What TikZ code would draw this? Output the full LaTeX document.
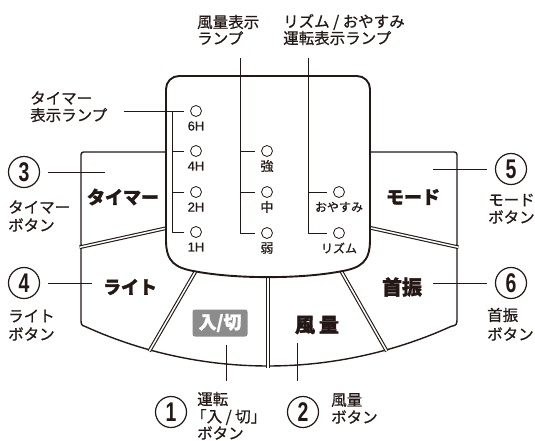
\documentclass[tikz,border=0pt]{standalone}
\usepackage{fontspec}
\setmainfont{Liberation Sans}
\newfontfamily\jp{Noto Sans CJK JP}[FakeBold=0.7]
\newfontfamily\jpb{Noto Sans CJK JP}[BoldFeatures={FakeBold=1.6}]
\newfontfamily\hfont{Liberation Sans}[FakeBold=0.5]
\usetikzlibrary{calc}
\definecolor{ink}{HTML}{231815}
\definecolor{boxgray}{HTML}{8C8C8C}
\begin{document}
\begin{tikzpicture}[x=1pt,y=-1pt, line join=round,
  btn/.style={draw=ink, line width=1.4pt, fill=white},
  divider/.style={draw=ink, line width=1.1pt, double=white, double distance=1.5pt},
  panel/.style={draw=ink, line width=1.9pt, fill=white},
  lead/.style={draw=ink, line width=0.8pt},
  lamp/.style={circle, draw=ink, line width=0.8pt, minimum size=11pt, inner sep=0pt},
  hlbl/.style={font=\hfont\fontsize{13}{14}\selectfont, text=ink, inner sep=0pt},
  jlbl/.style={font=\jp\fontsize{13}{14}\selectfont, text=ink, inner sep=0pt},
  klbl/.style={font=\jp\fontsize{12}{13}\selectfont, text=ink, inner sep=0pt},
  lbl/.style={font=\jp\fontsize{15.5}{17}\selectfont, text=ink, inner sep=0pt, anchor=west},
  btnlbl/.style={font=\jpb\bfseries\fontsize{18}{20}\selectfont, text=ink, inner sep=0pt},
  kbtnlbl/.style={font=\jpb\bfseries\fontsize{20}{22}\selectfont, text=ink, inner sep=0pt},
  num/.style={circle, draw=ink, line width=1.2pt, minimum size=31pt, inner sep=0pt,
    font=\bfseries\fontsize{27}{28}\selectfont, text=ink}
]
\useasboundingbox (0,0) rectangle (535,440);

% ---------- buttons ----------
\draw[btn, rounded corners=2.5pt] (81,247) -- (81,152) -- (180,152) -- (180,225) -- cycle;
\draw[btn, rounded corners=2.5pt] (457,247) -- (457,152) -- (358,152) -- (358,225) -- cycle;
\draw[btn] (81,247) -- (180,225) -- (180,250) -- (201,262) -- (150,350)
  -- plot[domain=105.45:114.4, samples=12, variable=\t] ({268+443*cos(\t)},{-77+443*sin(\t)})
  .. controls (81,325) .. (81,317) -- cycle;
\draw[btn] (457,247) -- (358,225) -- (358,250) -- (336,262) -- (386,350)
  -- plot[domain=74.55:65.6, samples=12, variable=\t] ({268+443*cos(\t)},{-77+443*sin(\t)})
  .. controls (457,325) .. (457,317) -- cycle;
\draw[btn] (150,350) -- (201,262) -- (268,262) -- (268,366)
  -- plot[domain=90:105.45, samples=16, variable=\t] ({268+443*cos(\t)},{-77+443*sin(\t)}) -- cycle;
\draw[btn] (386,350) -- (336,262) -- (268,262) -- (268,366)
  -- plot[domain=90:74.55, samples=16, variable=\t] ({268+443*cos(\t)},{-77+443*sin(\t)}) -- cycle;

% ---------- dividers ----------
\draw[divider] (79.5,247.3) -- (176,226);
\draw[divider] (458.5,247.3) -- (362,226);
\draw[divider] (149.2,351.3) -- (201,262);
\draw[divider] (386.8,351.3) -- (336,262);
\draw[divider] (268,367.6) -- (268,262);

% ---------- panel ----------
\draw[panel] (166,240) -- (166,89) .. controls (166,81.8) and (171.8,76) .. (179,76)
  -- (357,76) .. controls (364.2,76) and (370,81.8) .. (370,89) -- (370,240)
  .. controls (370,262) and (361,268) .. (340,271.5)
  .. controls (300,279) and (236,279) .. (196,271.5)
  .. controls (175,268) and (166,262) .. (166,240) -- cycle;

% ---------- timer lamps ----------
\node[lamp] (l6) at (196,111) {};
\node[lamp] (l4) at (196,151) {};
\node[lamp] (l2) at (196,192) {};
\node[lamp] (l1) at (196,232) {};
\node[hlbl] (t6) at (196,126) {6H};
\node[hlbl] (t4) at (196,166) {4H};
\node[hlbl] (t2) at (196,207) {2H};
\node[hlbl] (t1) at (196,247) {1H};
\coordinate (tlead) at (124,111);
\coordinate (tbar) at (172,111);
\draw[lead] (tlead) -- ([xshift=-6pt]l6.west);
\draw[lead] (tbar) -- (tbar |- l1) -- ([xshift=-6pt]l1.west);
\draw[lead] (tbar |- l4) -- ([xshift=-6pt]l4.west);
\draw[lead] (tbar |- l2) -- ([xshift=-6pt]l2.west);

% ---------- wind lamps ----------
\node[lamp] (ws) at (267,151) {};
\node[lamp] (wm) at (267,192) {};
\node[lamp] (ww) at (267,233) {};
\node[jlbl] (wst) at (267,166) {強};
\node[jlbl] (wmt) at (267,207) {中};
\node[jlbl] (wwt) at (267,248) {弱};
\coordinate (wtop) at (240,58);
\draw[lead] (wtop) -- (wtop |- ww) -- ([xshift=-6pt]ww.west);
\draw[lead] (wtop |- ws) -- ([xshift=-6pt]ws.west);
\draw[lead] (wtop |- wm) -- ([xshift=-6pt]wm.west);

% ---------- rhythm / sleep lamps ----------
\node[lamp] (rs) at (339,192) {};
\node[lamp] (rr) at (339,233) {};
\node[klbl] (rst) at (339,207) {おやすみ};
\node[klbl] (rrt) at (339,248) {リズム};
\coordinate (rtop) at (308,58);
\draw[lead] (rtop) -- (rtop |- rr) -- ([xshift=-6pt]rr.west);
\draw[lead] (rtop |- rs) -- ([xshift=-6pt]rs.west);

% ---------- top labels ----------
\node[lbl] (wl1) at (197,22) {風量表示};
\node[lbl] (wl2) at (197,38) {ランプ};
\node[lbl] (rl1) at (283,22) {リズム / おやすみ};
\node[lbl] (rl2) at (283,38) {運転表示ランプ};
\node[lbl] (tl1) at (30,98) {タイマー};
\node[lbl] (tl2) at (30,115) {表示ランプ};

% ---------- button labels ----------
\node[btnlbl] (bt) at (123,197) {タイマー};
\node[btnlbl] (bl) at (130,287) {ライト};
\node[btnlbl] (bm) at (413,197) {モード};
\node[kbtnlbl] (bs) at (402,287) {首振};
\node[kbtnlbl] (bf) at (317,325) {風\hspace{4pt}量};
\node[fill=boxgray, rounded corners=2.5pt, minimum width=55pt, minimum height=27pt,
  inner sep=0pt, text=white, font=\jpb\bfseries\fontsize{18}{20}\selectfont] (bo) at (220,323) {入/切};

% ---------- numbered callouts ----------
\node[num] (n3) at (24,172) {\scalebox{0.72}[1]{3}};
\node[num] (n4) at (24,283) {\scalebox{0.72}[1]{4}};
\node[num] (n5) at (511,169) {\scalebox{0.72}[1]{5}};
\node[num] (n6) at (511,283) {\scalebox{0.72}[1]{6}};
\node[num] (n1) at (171,412) {\scalebox{0.72}[1]{1}};
\node[num] (n2) at (303,412) {\scalebox{0.72}[1]{2}};

\coordinate (e3) at (105,172);
\coordinate (e4) at (92,283);
\coordinate (e5) at (433,169);
\coordinate (e6) at (433,283);
\coordinate (e1a) at (226,345);
\coordinate (e1b) at (226,381);
\coordinate (e2a) at (297,343);
\coordinate (e2b) at (297,381);
\draw[lead] ([xshift=8pt]n3.east) -- (e3);
\draw[lead] ([xshift=8pt]n4.east) -- (e4);
\draw[lead] (e5) -- ([xshift=-8pt]n5.west);
\draw[lead] (e6) -- ([xshift=-8pt]n6.west);
\draw[lead] (e1a) -- (e1b);
\draw[lead] (e2a) -- (e2b);

\node[lbl] (c3a) at (8,207) {タイマー};
\node[lbl] (c3b) at (8,225) {ボタン};
\node[lbl] (c4a) at (8,316) {ライト};
\node[lbl] (c4b) at (8,334) {ボタン};
\node[lbl] (c5a) at (488,200) {モード};
\node[lbl] (c5b) at (488,217) {ボタン};
\node[lbl] (c6a) at (487,315) {首振};
\node[lbl] (c6b) at (487,334) {ボタン};
\node[lbl] (c1a) at (197,399) {運転};
\node[lbl] (c1b) at (191,417) {「入 / 切」};
\node[lbl] (c1c) at (197,433) {ボタン};
\node[lbl] (c2a) at (331,400) {風量};
\node[lbl] (c2b) at (331,417) {ボタン};
\end{tikzpicture}
\end{document}
